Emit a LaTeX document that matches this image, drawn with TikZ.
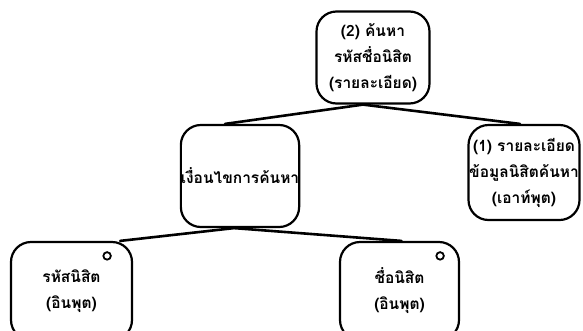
\documentclass[tikz,border=0pt]{standalone}
\usepackage{fontspec}
\newfontfamily\thaifont[Script=Thai]{Loma}
\usetikzlibrary{calc}
\tikzset{
  box/.style={draw, line width=2.2pt, rounded corners=20pt, align=center, inner sep=0pt,
    font=\thaifont\bfseries\fontsize{15.5}{26}\selectfont},
  conn/.style={line width=2.6pt, line cap=round},
  selmark/.style={circle, draw, line width=1.8pt, minimum size=7.5pt, inner sep=0pt}
}
\begin{document}
\begin{tikzpicture}[x=1pt,y=-1pt]
\useasboundingbox (0,0) rectangle (583,330);
\clip (0,0) rectangle (583,330);
\fill[white] (0,0) rectangle (583,330);
\node[box, minimum width=113pt, minimum height=92pt] (top) at (373,57.5)
  {(2) ค้นหา\\รหัสชื่อนิสิต\\(รายละเอียด)};
\node[box, minimum width=117pt, minimum height=102pt] (mid) at (240,176)
  {เงื่อนไขการค้นหา};
\node[box, minimum width=111pt, minimum height=95pt] (rgt) at (524,172.5)
  {(1) รายละเอียด\\ข้อมูลนิสิตค้นหา\\(เอาท์พุต)};
\node[box, minimum width=121pt, minimum height=98pt] (bl) at (71.5,291)
  {รหัสนิสิต\\(อินพุต)};
\node[box, minimum width=119pt, minimum height=98pt] (br) at (399.5,291)
  {ชื่อนิสิต\\(อินพุต)};
\node[selmark] (blc) at ($(bl.north east)+(-26,15)$) {};
\node[selmark] (brc) at ($(br.north east)+(-20,15)$) {};
\draw[conn] ([xshift=-10pt]top.south) -- ([xshift=-15pt]mid.north);
\draw[conn] ([xshift=-10pt]top.south) -- ([xshift=-4pt]rgt.north);
\draw[conn] ([xshift=-6pt]mid.south) -- ([xshift=-13pt]bl.north east);
\draw[conn] ([xshift=-6pt]mid.south) -- ([xshift=2pt]br.north);
\end{tikzpicture}
\end{document}
